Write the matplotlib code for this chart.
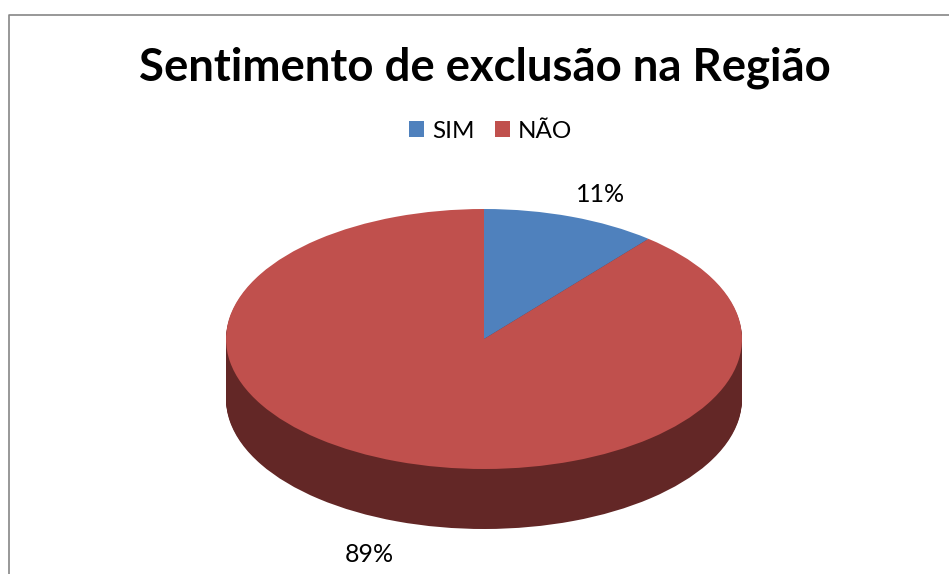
import matplotlib
matplotlib.use("Agg")
import matplotlib.pyplot as plt
from matplotlib.lines import Line2D

W, H = 949, 574
title = "Sentimento de exclusão na Região"
categories = ["SIM", "NÃO"]
values = [11, 89]
top_colors = ["#4F81BD", "#C0504D"]
side_colors = ["#2A4A70", "#632726"]

plt.rcParams['font.family'] = ['Lato', 'DejaVu Sans']
fig = plt.figure(figsize=(W / 100, H / 100), dpi=100, facecolor="white")

def fx(x): return x / W
def fy(y): return 1 - y / H

# chart frame
fig.add_artist(Line2D([fx(8.5), fx(8.5), 1], [0, fy(14.5), fy(14.5)],
                      transform=fig.transFigure, color="#868686", lw=1.2))

# pie axes: x spans the ellipse, y spans the ellipse plus the extruded side
left, right, top, ell_bottom, bottom = 226, 742, 209, 469, 529
ry_px = (ell_bottom - top) / 2
depth = (bottom - ell_bottom) / ry_px
ax = fig.add_axes([fx(left), fy(bottom), (right - left) / W, (bottom - top) / H])

steps = 60
for i in range(steps, 0, -1):
    ax.pie(values, colors=side_colors, startangle=90, counterclock=False,
           center=(0, -depth * i / steps), radius=1)
wedges, _ = ax.pie(values, colors=top_colors, startangle=90, counterclock=False,
                   center=(0, 0), radius=1,
                   wedgeprops=dict(edgecolor="none"))
ax.set_aspect("auto")
ax.set_xlim(-1, 1)
ax.set_ylim(-1 - depth, 1)
ax.set_position([fx(left), fy(bottom), (right - left) / W, (bottom - top) / H])
ax.axis("off")
for p in ax.patches:
    p.set_clip_on(False)

fig.text(fx(484.5), fy(68), title, ha="center", va="center",
         fontsize=32.8, fontweight="bold", color="black")

leg = fig.legend(wedges, categories, ncol=2, loc="center",
                 bbox_to_anchor=(fx(490.5), fy(131)), frameon=False,
                 fontsize=17.5, handlelength=0.62, handleheight=0.62,
                 handletextpad=0.32, columnspacing=0.85, labelcolor="black")

label_pos = [(601, 195), (369, 554)]
for v, (x, y) in zip(values, label_pos):
    fig.text(fx(x), fy(y), f"{v}%", ha="center", va="center", fontsize=18, color="black")

fig.savefig("out.png", dpi=100, facecolor="white")
